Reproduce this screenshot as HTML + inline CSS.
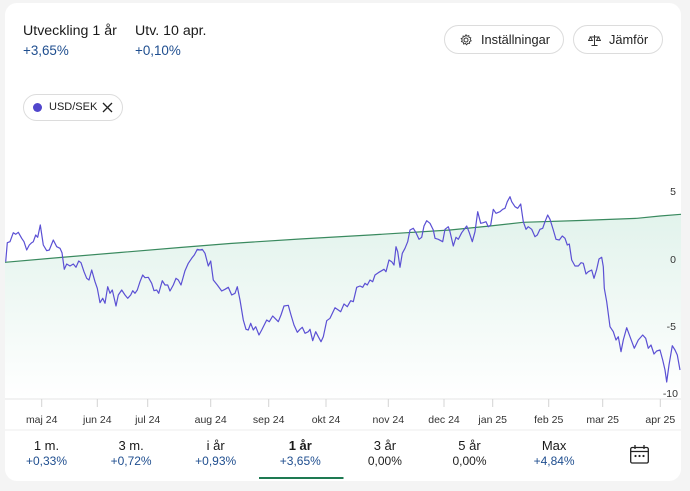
<!DOCTYPE html>
<html><head><meta charset="utf-8">
<style>
html,body{margin:0;padding:0;}
body{width:690px;height:491px;background:#f4f4f4;position:relative;overflow:hidden;font-family:"Liberation Sans",Arial,sans-serif;color:#1a1a1a;}
.card{position:absolute;left:5px;top:3px;width:676px;height:478px;background:#fff;border-radius:12px;}
.t{position:absolute;white-space:nowrap;}
.h{font-size:14.2px;color:#1a1a1a;}
.v{font-size:13.4px;color:#1f4e8f;}
.pill{position:absolute;top:25px;height:29px;border:1px solid #dcdcdc;border-radius:15px;box-sizing:border-box;font-size:12.8px;color:#222;}
.tab{position:absolute;top:437px;width:84.6px;text-align:center;}
.tab .a{font-size:13px;color:#1a1a1a;line-height:17px;}
.tab .b{font-size:12px;color:#1f4e8f;line-height:15px;}
.tab .b.g{color:#222;}
</style></head><body>
<div class="card"></div>

<div class="t h" style="left:23px;top:23px;">Utveckling 1 år</div>
<div class="t v" style="left:23px;top:43px;">+3,65%</div>
<div class="t h" style="left:135px;top:23px;">Utv. 10 apr.</div>
<div class="t v" style="left:135px;top:43px;">+0,10%</div>

<div class="pill" style="left:444px;width:120px;">
  <svg style="position:absolute;left:15px;top:8px" width="12" height="12" viewBox="0 0 12 12"><circle cx="6" cy="6" r="2" fill="none" stroke="#333" stroke-width="1"/><path d="M6 0.8 L7 2.2 L8.8 1.6 L9 3.4 L10.8 3.8 L10.2 5.5 L11.2 6.8 L9.6 7.6 L9.6 9.4 L7.8 9.2 L6.6 10.8 L5.4 9.4 L3.6 10 L3.3 8.2 L1.5 7.6 L2.3 6 L1.2 4.5 L3 3.9 L3.1 2.1 L4.9 2.5 Z" fill="none" stroke="#333" stroke-width="0.9"/></svg>
  <span class="t" style="left:36px;top:6px;">Inställningar</span>
</div>
<div class="pill" style="left:573px;width:90px;">
  <svg style="position:absolute;left:14px;top:8px" width="13" height="13" viewBox="0 0 13 13"><line x1="6.5" y1="1" x2="6.5" y2="11.5" stroke="#333" stroke-width="1"/><line x1="3.5" y1="11.5" x2="9.5" y2="11.5" stroke="#333" stroke-width="1"/><line x1="1.5" y1="3" x2="11.5" y2="3" stroke="#333" stroke-width="1"/><path d="M0.5 6.5 L2.5 3 L4.5 6.5 Z M8.5 6.5 L10.5 3 L12.5 6.5 Z" fill="none" stroke="#333" stroke-width="0.9"/></svg>
  <span class="t" style="left:35px;top:6px;">Jämför</span>
</div>

<div style="position:absolute;left:23px;top:94px;width:100px;height:27px;border:1px solid #dcdcdc;border-radius:14px;box-sizing:border-box;">
  <div style="position:absolute;left:9px;top:8px;width:9px;height:9px;border-radius:50%;background:#5146cc;"></div>
  <span class="t" style="left:25px;top:6px;font-size:11px;color:#222;">USD/SEK</span>
  <svg style="position:absolute;left:78px;top:7px" width="11" height="11" viewBox="0 0 11 11"><path d="M1 1 L10 10 M10 1 L1 10" stroke="#222" stroke-width="1.3"/></svg>
</div>

<svg style="position:absolute;left:0;top:0" width="690" height="491" viewBox="0 0 690 491">
  <defs>
    <linearGradient id="gf" x1="0" y1="0" x2="0" y2="1">
      <stop offset="0" stop-color="#e2f3ec"/>
      <stop offset="1" stop-color="#ffffff"/>
    </linearGradient>
  </defs>
  <polygon fill="url(#gf)" points="5,262.3 60,257.5 120,252.5 180,247.5 230,243.5 300,239 370,235 450,230 490,226 523,222.3 580,220.5 637,218.3 660,216 681,214.3 681,399 5,399"/>
  <polyline fill="none" stroke="#3a8a5f" stroke-width="1.2" points="5,262.3 60,257.5 120,252.5 180,247.5 230,243.5 300,239 370,235 450,230 490,226 523,222.3 580,220.5 637,218.3 660,216 681,214.3"/>
  <polyline fill="none" stroke="#5b50d4" stroke-width="1.2" stroke-linejoin="round" points="5.7,261.7 7.3,242.7 10,241.7 13.3,232.7 15.7,234.3 18.3,232.3 21.7,238.3 24,241.7 26.7,250 29.3,245 31.7,242.7 33.3,241.7 35.7,235 37.7,237.3 40.3,225 43.3,245 46.7,250.7 49.3,250 53.3,240 56.7,246.7 60,248.3 62,252.7 64.3,269.3 66.7,264 70,266 73.3,264 76,267.3 78.7,261 81,262.7 84,271.7 86.7,278.3 89,280 91.7,270 95,281.7 97.3,288.3 100,302.7 102.7,298.3 105,303.3 107.7,286.7 110,293.3 112.3,290 116,306 118.3,295 121.7,290 125,295 127.7,298.3 130.7,295 132.7,290.7 135,293.3 137.3,290 140,281.7 142.7,275 145,277.7 148.3,277.3 151.7,283.3 154,290.7 156.7,290 158.7,293.3 162.3,280.7 165,285 167.7,285 170,291 173.3,285 176,278.3 178.3,280 181,285 185,270.7 188.3,263.3 191.7,258.3 194.3,255 197.3,249.3 200,250 202.3,249.3 205,253.3 208.3,266 210.7,261 213.3,280 217.3,285 221.7,291 225,289.3 228.3,287.3 231.7,295 235,293.3 237.3,286.7 240,300 243.3,320 246,329.3 248.3,330 250.7,323.3 253.3,330 255.7,326.7 259,335 261.7,330 266.7,320 269.3,321.7 272.7,316 275,318.3 278.3,321.7 281,315 284,306 288.3,305.3 291,315 294,325 297.3,332.3 300,329.3 302.3,327.3 305,333.3 308.3,331.7 310,329.3 312.7,340.7 315.7,331.7 318.3,336.7 321,341.7 323.3,336.7 326.7,320.7 330,318.3 335,307.7 338.3,310 340.7,311.7 344,304 347.3,306.7 350.7,300.7 353.3,301.7 356.7,287.3 360,286 362.7,287.3 365,283.3 367.3,285 370,280 372.7,281.7 375,275 378.3,272.7 381.7,270.7 384,269.3 386,271.7 389,260 391.7,261.7 394,265 396,246.7 397.7,251.7 400,267.3 402.3,253.3 405,248.3 407.7,241.7 410,230 413.3,228.3 416,232.7 419,239.3 421.7,237.3 424,226 426.7,220.7 430,223.3 433.3,230 435,238.3 438.3,239.3 442.7,241.7 445,229.3 448.3,226.7 450,231.7 453.3,246 456,237.3 458.3,239.3 461.7,232.7 466.7,226 469.3,232.7 472.3,241.7 475,231.7 477.7,211.7 480.7,223.3 483.3,222.7 486,221.7 488.3,226.7 490.7,225 493.3,209.3 496,213.3 500,211.7 502.7,209.3 505,208.3 507.3,201.7 510,196.7 511.7,201.7 515,206.7 517.7,208.3 520.7,204 523.3,221.7 526,229.3 528.3,226.7 531.7,229.3 535,236.7 537.3,235 540,229.3 542.7,228.3 545,221.7 547.7,215 550,219.3 553.3,230 556,239.3 559.3,240 562.3,236 565,238.3 567.3,245 569.3,244 571.7,260 575,266 578.3,266 581,262.7 583.3,263.3 586,274 588.3,271.7 591.7,270 594,278.3 596.7,269.3 599,259 601.7,257.3 603.3,266.7 604.3,288.3 606.7,301.7 610,326.7 613.3,331.7 616,340 618.3,336.7 621,351.7 623.3,340 626.7,327.7 630,336.7 634.3,348.3 638.3,340 642.7,335 645.7,338.3 648.3,348.3 651,345 654,354 656.7,351 660,350 662.7,360 665,370 666.7,382 669,365 672.3,345.7 675,350 677.3,355 680,370"/>
  <line x1="5" y1="399" x2="681" y2="399" stroke="#e4e4e4" stroke-width="1"/>
  <g stroke="#d4d4d4" stroke-width="1">
    <line x1="41.7" y1="399" x2="41.7" y2="407"/><line x1="97.3" y1="399" x2="97.3" y2="407"/><line x1="147.7" y1="399" x2="147.7" y2="407"/><line x1="210.7" y1="399" x2="210.7" y2="407"/><line x1="268.7" y1="399" x2="268.7" y2="407"/><line x1="326" y1="399" x2="326" y2="407"/><line x1="388.3" y1="399" x2="388.3" y2="407"/><line x1="444" y1="399" x2="444" y2="407"/><line x1="492.7" y1="399" x2="492.7" y2="407"/><line x1="548.7" y1="399" x2="548.7" y2="407"/><line x1="602.7" y1="399" x2="602.7" y2="407"/><line x1="660.3" y1="399" x2="660.3" y2="407"/>
  </g>
  <g font-family="Liberation Sans, Arial, sans-serif" font-size="10.5" fill="#333" text-anchor="middle">
    <text x="41.7" y="423">maj 24</text><text x="97.3" y="423">jun 24</text><text x="147.7" y="423">jul 24</text><text x="210.7" y="423">aug 24</text><text x="268.7" y="423">sep 24</text><text x="326" y="423">okt 24</text><text x="388.3" y="423">nov 24</text><text x="444" y="423">dec 24</text><text x="492.7" y="423">jan 25</text><text x="548.7" y="423">feb 25</text><text x="602.7" y="423">mar 25</text><text x="660.3" y="423">apr 25</text>
  </g>
  <g font-family="Liberation Sans, Arial, sans-serif" font-size="10.5" fill="#333" text-anchor="end">
    <text x="676" y="195">5</text><text x="676" y="263">0</text><text x="676" y="330">-5</text><text x="678" y="397">-10</text>
  </g>
  <line x1="5" y1="430" x2="681" y2="430" stroke="#ececec" stroke-width="1"/>
  <line x1="259" y1="478" x2="343.5" y2="478" stroke="#1e7a52" stroke-width="2"/>
  <g transform="translate(630,445)" fill="none" stroke="#222" stroke-width="1.3">
    <rect x="0.7" y="2.5" width="17.6" height="15.5" rx="1.5"/>
    <line x1="0.7" y1="6.5" x2="18.3" y2="6.5"/>
    <line x1="5" y1="0" x2="5" y2="4"/><line x1="14" y1="0" x2="14" y2="4"/>
  </g>
  <g fill="#222"><circle cx="635.5" cy="456" r="1.1"/><circle cx="639.5" cy="456" r="1.1"/><circle cx="643.5" cy="456" r="1.1"/></g>
</svg>

<div class="tab" style="left:4.2px;"><div class="a">1 m.</div><div class="b">+0,33%</div></div>
<div class="tab" style="left:88.8px;"><div class="a">3 m.</div><div class="b">+0,72%</div></div>
<div class="tab" style="left:173.4px;"><div class="a">i år</div><div class="b">+0,93%</div></div>
<div class="tab" style="left:258px;"><div class="a" style="font-weight:bold;">1 år</div><div class="b">+3,65%</div></div>
<div class="tab" style="left:342.6px;"><div class="a">3 år</div><div class="b g">0,00%</div></div>
<div class="tab" style="left:427.2px;"><div class="a">5 år</div><div class="b g">0,00%</div></div>
<div class="tab" style="left:511.8px;"><div class="a">Max</div><div class="b">+4,84%</div></div>
</body></html>
